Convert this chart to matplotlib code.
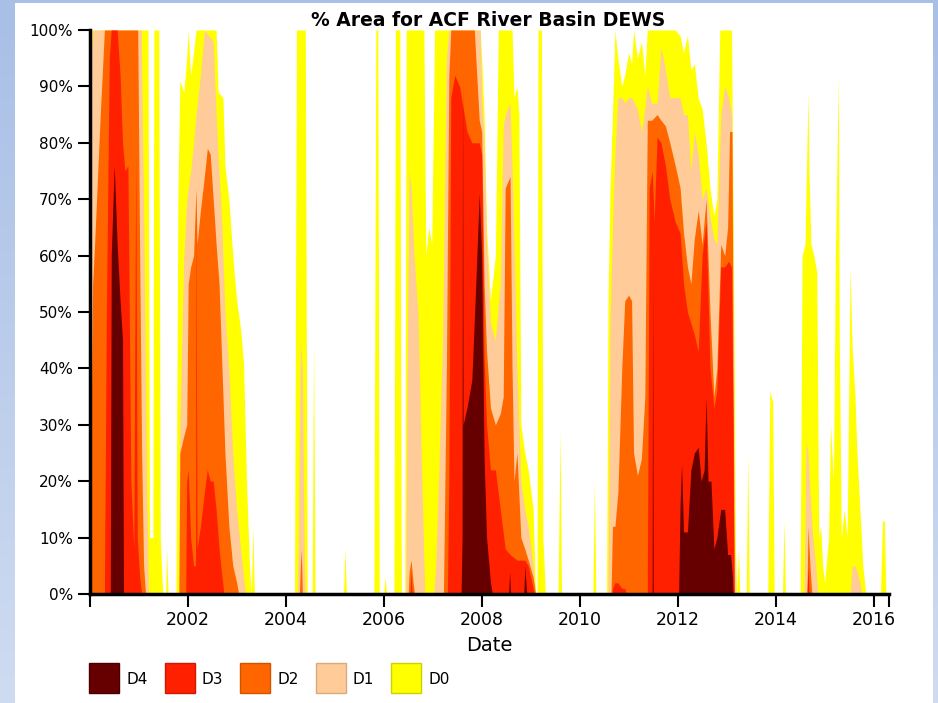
import numpy as np
import matplotlib.pyplot as plt
from matplotlib.patches import Rectangle

# drought categories (cumulative % area, e.g. D1 = D1-D4)
cat_names = ['D4', 'D3', 'D2', 'D1', 'D0']
cat_colors = ['#660000', '#FF2000', '#FF6600', '#FFCC99', '#FFFF00']

d0 = [(2000.00, 100), (2001.19, 100), (2001.22, 10), (2001.29, 10), (2001.31, 100), (2001.41, 100),
      (2001.44, 10), (2001.49, 0), (2001.55, 0), (2001.57, 8), (2001.60, 0), (2001.76, 0),
      (2001.80, 70), (2001.84, 91),
      (2001.92, 89), (2001.98, 95), (2002.01, 100), (2002.06, 92), (2002.12, 96), (2002.17, 100),
      (2002.58, 100), (2002.62, 89), (2002.72, 88), (2002.76, 76), (2002.84, 70), (2002.92, 60),
      (2003.00, 52), (2003.08, 47), (2003.14, 41), (2003.20, 20), (2003.26, 5), (2003.30, 0),
      (2003.33, 12), (2003.36, 0),
      (2004.18, 0), (2004.22, 100), (2004.40, 100), (2004.44, 0), (2004.54, 0), (2004.57, 45),
      (2004.60, 0), (2005.18, 0), (2005.21, 8), (2005.24, 0), (2005.80, 0), (2005.84, 100),
      (2005.88, 100), (2005.91, 0), (2006.00, 0), (2006.03, 3), (2006.06, 0), (2006.21, 0),
      (2006.24, 100), (2006.33, 100), (2006.36, 0), (2006.43, 0), (2006.46, 100), (2006.82, 100),
      (2006.86, 60), (2006.92, 65), (2006.98, 62), (2007.04, 100), (2007.97, 100), (2008.00, 95),
      (2008.05, 85), (2008.10, 65), (2008.18, 52), (2008.28, 60), (2008.34, 100), (2008.62, 100),
      (2008.66, 88), (2008.72, 90), (2008.76, 85), (2008.80, 30), (2008.88, 25), (2008.95, 22),
      (2009.05, 15), (2009.10, 0), (2009.13, 0), (2009.15, 100), (2009.22, 100), (2009.25, 10),
      (2009.30, 0),
      (2009.56, 0), (2009.60, 29), (2009.63, 0), (2010.27, 0), (2010.30, 20), (2010.33, 0),
      (2010.55, 0), (2010.58, 52), (2010.62, 72), (2010.67, 85), (2010.72, 100), (2010.78, 95),
      (2010.86, 90), (2010.92, 92), (2011.00, 96), (2011.06, 94), (2011.10, 100), (2011.18, 95),
      (2011.26, 98), (2011.33, 92), (2011.38, 100), (2011.95, 100), (2012.05, 99), (2012.12, 96),
      (2012.20, 99), (2012.27, 93), (2012.34, 94), (2012.42, 88), (2012.50, 86), (2012.58, 80),
      (2012.66, 72), (2012.74, 67), (2012.80, 70), (2012.86, 100), (2013.10, 100), (2013.14, 60),
      (2013.18, 8), (2013.21, 0), (2013.24, 8), (2013.27, 0), (2013.40, 0), (2013.43, 25),
      (2013.46, 0), (2013.84, 0), (2013.88, 36), (2013.94, 34), (2013.97, 0), (2014.14, 0),
      (2014.17, 13), (2014.20, 0), (2014.50, 0), (2014.54, 60), (2014.60, 62), (2014.66, 89),
      (2014.68, 75), (2014.72, 62), (2014.78, 60), (2014.84, 57), (2014.88, 10), (2014.92, 12),
      (2014.96, 5), (2015.00, 2), (2015.08, 10), (2015.12, 30), (2015.18, 20), (2015.22, 60),
      (2015.28, 92), (2015.30, 45), (2015.34, 10), (2015.40, 15), (2015.46, 10), (2015.52, 58),
      (2015.56, 44), (2015.62, 35), (2015.66, 25), (2015.72, 15), (2015.78, 5), (2015.84, 0),
      (2016.14, 0), (2016.18, 13), (2016.22, 13), (2016.25, 0), (2016.32, 0)]

d1 = [(2000.00, 60), (2000.02, 95), (2000.06, 100), (2001.05, 100), (2001.10, 70), (2001.16, 20),
      (2001.20, 0), (2001.82, 0), (2001.84, 30),
      (2001.92, 60), (2001.98, 70), (2002.06, 75), (2002.12, 80), (2002.17, 85), (2002.26, 92),
      (2002.34, 100), (2002.52, 98), (2002.58, 85), (2002.64, 75), (2002.70, 65), (2002.76, 50),
      (2002.84, 40), (2002.92, 25), (2003.00, 15), (2003.08, 8), (2003.14, 3), (2003.18, 0),
      (2004.24, 0), (2004.26, 10), (2004.30, 45), (2004.34, 40), (2004.38, 5), (2004.40, 0),
      (2006.45, 0), (2006.48, 40), (2006.52, 75), (2006.56, 72), (2006.62, 60), (2006.70, 50),
      (2006.78, 20), (2006.84, 0), (2007.02, 0), (2007.06, 5), (2007.12, 20), (2007.20, 45),
      (2007.28, 95), (2007.33, 100), (2007.97, 100), (2008.00, 88), (2008.05, 80), (2008.10, 62),
      (2008.18, 48), (2008.28, 45), (2008.38, 55), (2008.44, 83), (2008.48, 85), (2008.58, 87),
      (2008.64, 70), (2008.72, 40), (2008.80, 20), (2008.88, 15), (2008.95, 12), (2009.05, 5),
      (2009.10, 0), (2010.58, 0), (2010.62, 48), (2010.67, 65), (2010.72, 78), (2010.78, 88),
      (2010.86, 88), (2010.92, 87), (2011.00, 88), (2011.06, 88), (2011.18, 86), (2011.26, 82),
      (2011.33, 86), (2011.38, 90), (2011.47, 87), (2011.58, 87), (2011.66, 97), (2011.75, 93),
      (2011.84, 88), (2011.95, 88), (2012.05, 88), (2012.12, 85), (2012.20, 85), (2012.27, 75),
      (2012.34, 82), (2012.42, 78), (2012.50, 70), (2012.58, 72), (2012.66, 67), (2012.74, 63),
      (2012.80, 62), (2012.88, 85), (2012.96, 90), (2013.04, 88), (2013.10, 85), (2013.13, 60),
      (2013.16, 10), (2013.19, 0), (2014.58, 0), (2014.62, 27), (2014.66, 25), (2014.70, 18),
      (2014.76, 10), (2014.82, 5), (2014.86, 0), (2015.52, 0), (2015.56, 5), (2015.62, 5),
      (2015.66, 4), (2015.72, 2), (2015.76, 0)]

d2 = [(2000.00, 30), (2000.03, 31), (2000.06, 55), (2000.10, 62), (2000.21, 84), (2000.30, 100),
      (2000.98, 100), (2001.02, 60), (2001.06, 25), (2001.10, 5), (2001.14, 0),
      (2001.82, 0), (2001.84, 25), (2001.92, 28), (2001.98, 30), (2002.01, 55),
      (2002.06, 58), (2002.12, 60), (2002.17, 72), (2002.19, 62), (2002.26, 68), (2002.34, 74),
      (2002.40, 79), (2002.46, 78), (2002.52, 70), (2002.58, 62), (2002.64, 55), (2002.70, 40),
      (2002.76, 25), (2002.84, 12), (2002.92, 5), (2003.00, 2), (2003.04, 0),
      (2004.28, 0), (2004.30, 5), (2004.32, 8), (2004.34, 0), (2006.50, 0), (2006.52, 4),
      (2006.56, 6), (2006.60, 2), (2006.63, 0), (2007.22, 0), (2007.28, 40), (2007.33, 92),
      (2007.37, 100), (2007.85, 100), (2007.90, 92), (2007.95, 84), (2008.00, 82), (2008.05, 55),
      (2008.10, 43), (2008.18, 33), (2008.28, 30), (2008.38, 32), (2008.44, 35), (2008.48, 72),
      (2008.58, 74), (2008.62, 40), (2008.66, 20), (2008.72, 25), (2008.80, 10), (2008.88, 8),
      (2008.95, 6), (2009.05, 3), (2009.10, 0), (2010.64, 0), (2010.67, 12), (2010.72, 12),
      (2010.78, 18), (2010.86, 40), (2010.92, 52), (2011.00, 53), (2011.06, 52), (2011.10, 25),
      (2011.18, 21), (2011.26, 24), (2011.33, 35), (2011.38, 84), (2011.47, 84), (2011.58, 85),
      (2011.66, 84), (2011.75, 83), (2011.84, 80), (2011.95, 76), (2012.05, 72), (2012.12, 64),
      (2012.20, 58), (2012.27, 55), (2012.34, 63), (2012.42, 68), (2012.50, 62), (2012.58, 70),
      (2012.66, 50), (2012.74, 35), (2012.80, 40), (2012.88, 62), (2012.96, 60), (2013.02, 65),
      (2013.06, 82), (2013.11, 82), (2013.13, 40), (2013.16, 0), (2014.64, 0), (2014.66, 12),
      (2014.70, 5), (2014.74, 0)]

d3 = [(2000.30, 0), (2000.34, 50), (2000.40, 95), (2000.44, 100), (2000.56, 100), (2000.62, 92),
      (2000.67, 80), (2000.72, 75), (2000.78, 76), (2000.84, 20), (2000.90, 8), (2000.94, 78),
      (2000.97, 10), (2001.02, 3), (2001.06, 0), (2001.96, 0), (2001.98, 20), (2002.01, 22),
      (2002.06, 10), (2002.12, 5), (2002.16, 5), (2002.17, 70), (2002.19, 8), (2002.26, 12),
      (2002.34, 18), (2002.40, 22), (2002.46, 20), (2002.52, 20), (2002.58, 15), (2002.64, 8),
      (2002.70, 3), (2002.74, 0), (2006.54, 0), (2006.56, 4), (2006.58, 0),
      (2007.30, 0), (2007.33, 20), (2007.37, 88), (2007.45, 92), (2007.55, 90), (2007.70, 82),
      (2007.80, 80), (2007.95, 80), (2008.00, 78), (2008.05, 42), (2008.10, 30), (2008.18, 22),
      (2008.28, 22), (2008.38, 15), (2008.48, 8), (2008.58, 7), (2008.72, 6), (2008.88, 6),
      (2008.95, 5), (2009.05, 1), (2009.08, 0), (2010.66, 0), (2010.67, 1), (2010.72, 2),
      (2010.78, 2), (2010.86, 1), (2010.92, 1), (2010.96, 0), (2011.38, 0), (2011.42, 72),
      (2011.48, 75), (2011.52, 66), (2011.58, 81), (2011.66, 80), (2011.75, 76), (2011.84, 70),
      (2011.95, 66), (2012.05, 64), (2012.12, 55), (2012.20, 50), (2012.27, 48), (2012.34, 46),
      (2012.42, 43), (2012.50, 60), (2012.58, 66), (2012.66, 40), (2012.74, 33), (2012.80, 36),
      (2012.88, 58), (2012.96, 58), (2013.04, 59), (2013.10, 58), (2013.13, 30), (2013.15, 0),
      (2014.64, 0), (2014.66, 5), (2014.68, 0)]

d4 = [(2000.42, 0), (2000.44, 60), (2000.50, 76), (2000.56, 62), (2000.62, 52), (2000.67, 45),
      (2000.69, 0), (2007.58, 0), (2007.60, 10), (2007.61, 92), (2007.62, 30), (2007.70, 33),
      (2007.80, 38), (2007.88, 55), (2007.95, 71), (2008.00, 60), (2008.05, 24), (2008.10, 10),
      (2008.18, 2), (2008.22, 0), (2008.55, 0), (2008.57, 4), (2008.59, 0), (2008.86, 0),
      (2008.88, 5), (2008.92, 0), (2011.48, 0), (2011.49, 56), (2011.50, 0), (2012.02, 0),
      (2012.05, 16), (2012.08, 23), (2012.12, 11), (2012.20, 11), (2012.27, 22), (2012.34, 25),
      (2012.42, 26), (2012.48, 20), (2012.54, 22), (2012.58, 35), (2012.62, 20), (2012.68, 20),
      (2012.74, 8), (2012.80, 10), (2012.88, 15), (2012.96, 15), (2013.02, 7), (2013.08, 7),
      (2013.12, 3), (2013.13, 0)]

series = [d4, d3, d2, d1, d0]

x_ticks = [2002, 2004, 2006, 2008, 2010, 2012, 2014, 2016]
y_ticks = [0, 10, 20, 30, 40, 50, 60, 70, 80, 90, 100]
x_start, x_end = 2000.0, 2016.32

fig = plt.figure(figsize=(9.38, 7.03), dpi=100)
fig.patch.set_facecolor('white')

# blue frame of the original screenshot
grad = np.linspace(0, 1, 256).reshape(-1, 1)
bg_cmap = plt.matplotlib.colors.LinearSegmentedColormap.from_list('bg', ['#A8BFE6', '#CFDBF1'])
for rect in ([0, 0, 14 / 938, 1], [933 / 938, 0, 5 / 938, 1]):
    bax = fig.add_axes(rect)
    bax.imshow(grad, aspect='auto', cmap=bg_cmap, extent=[0, 1, 1, 0])
    bax.axis('off')
fig.add_artist(Rectangle((0, 1 - 3 / 703), 1, 3 / 703, transform=fig.transFigure,
                         color='#A8BFE6', lw=0))

ax = fig.add_axes([89.7 / 938, 109 / 703, (889.3 - 89.7) / 938, 564 / 703])

# draw D0 first (largest) and the more severe categories on top
for data, color in zip(series[::-1], cat_colors[::-1]):
    arr = np.array(data, dtype=float)
    ax.fill_between(arr[:, 0], 0, arr[:, 1], color=color, lw=0)

ax.set_xlim(x_start, x_end)
ax.set_ylim(0, 100)
ax.set_xticks([x_start] + x_ticks + [x_end])
ax.set_xticklabels([''] + [str(t) for t in x_ticks] + [''], fontsize=12.5)
ax.set_yticks(y_ticks)
ax.set_yticklabels([f'{t}%' for t in y_ticks], fontsize=11)
ax.tick_params(axis='both', direction='out', length=9, width=1.5, color='black', pad=3)
for side in ['top', 'right']:
    ax.spines[side].set_visible(False)
for side in ['left', 'bottom']:
    ax.spines[side].set_linewidth(2.5)

ax.set_xlabel('Date', fontsize=14, labelpad=5)
fig.text(0.52, 1 - 20 / 703, '% Area for ACF River Basin DEWS', ha='center', va='center',
         fontsize=13.5, fontweight='bold')

# legend row along the bottom
edge_colors = ['#4a0000', '#d01a00', '#d05500', '#d8aa80', '#d0d000']
for i, (name, color) in enumerate(zip(cat_names, cat_colors)):
    x0 = 89 + i * 75.6
    fig.add_artist(Rectangle((x0 / 938, 1 - 693 / 703), 30 / 938, 30 / 703,
                             transform=fig.transFigure, facecolor=color,
                             edgecolor=edge_colors[i], lw=1))
    fig.text((x0 + 37) / 938, 1 - 679 / 703, name, ha='left', va='center', fontsize=11)

fig.savefig('out.png', dpi=100)
